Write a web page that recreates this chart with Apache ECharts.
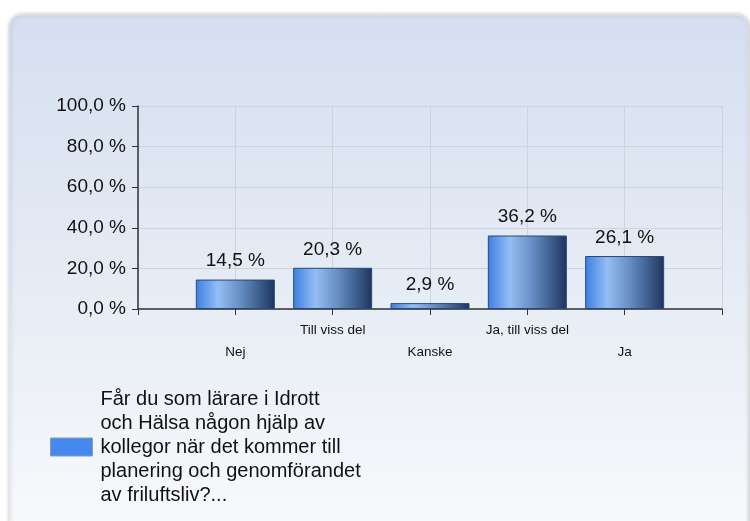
<!DOCTYPE html>
<html>
<head>
<meta charset="utf-8">
<script src="https://cdn.jsdelivr.net/npm/echarts@6/dist/echarts.min.js"></script>
<style>
  html, body { margin: 0; padding: 0; background: #ffffff; }
  #chart { width: 750px; height: 521px; }
</style>
</head>
<body>
<div id="chart"></div>
<script>
// categories (empty slots at both ends, like the original axis)
var categories = ['', 'Nej', 'Till viss del', 'Kanske', 'Ja, till viss del', 'Ja', '']
var values = ['-', 14.5, 20.3, 2.9, 36.2, 26.1, '-']
var yTicks = [0, 20, 40, 60, 80, 100]
var seriesName = 'Får du som lärare i Idrott\noch Hälsa någon hjälp av\nkollegor när det kommer till\nplanering och genomförandet\nav friluftsliv?...'

function pct(v) {
    return v.toFixed(1).replace('.', ',') + ' %'
}

const mychart = echarts.init(document.getElementById('chart'))
mychart.setOption(getOption())

function getOption() {
    var barColor = new echarts.graphic.LinearGradient(0, 0, 1, 0, [
        { offset: 0, color: '#3d7fe2' },
        { offset: 0.28, color: '#93bef4' },
        { offset: 0.55, color: '#6a90c6' },
        { offset: 0.8, color: '#3e5e8e' },
        { offset: 1, color: '#1c345e' }
    ])
    var option = {
        backgroundColor: '#ffffff',
        textStyle: { fontFamily: 'Liberation Sans, Arial, sans-serif' },
        graphic: [{
            type: 'rect',
            z: -10,
            shape: { x: 9, y: 15, width: 739, height: 540, r: 12 },
            style: {
                fill: new echarts.graphic.LinearGradient(0, 0, 0, 1, [
                    { offset: 0, color: '#d5dff0' },
                    { offset: 0.5, color: '#e6ecf5' },
                    { offset: 1, color: '#fafbfc' }
                ]),
                stroke: '#dfe5ee',
                lineWidth: 1,
                shadowBlur: 4,
                shadowColor: 'rgba(0,0,0,0.25)',
                shadowOffsetX: 1
            }
        }],
        grid: { left: 138, right: 28, top: 106, bottom: 212 },
        legend: {
            left: 45,
            top: 382,
            orient: 'vertical',
            itemWidth: 42,
            itemHeight: 18,
            itemGap: 8,
            icon: 'rect',
            textStyle: { fontSize: 20, color: '#111', lineHeight: 24, padding: [0, 0, 0, 3] },
            data: [{ name: seriesName, itemStyle: { color: '#4589ee', borderColor: '#8a9bb0', borderWidth: 1 } }]
        },
        xAxis: {
            type: 'category',
            data: categories,
            boundaryGap: false,
            axisLine: { lineStyle: { color: '#333', width: 1.5 } },
            axisTick: { show: true, length: 6, alignWithLabel: true, interval: 0, lineStyle: { color: '#333' } },
            splitLine: { show: true, interval: 0, lineStyle: { color: '#cdd4df', width: 1 } },
            axisLabel: {
                interval: 0,
                margin: 10,
                fontSize: 13.5,
                lineHeight: 22,
                color: '#111',
                formatter: function (v, i) {
                    return i % 2 === 1 ? '\n' + v : v
                }
            }
        },
        yAxis: {
            type: 'value',
            min: yTicks[0],
            max: yTicks[yTicks.length - 1],
            interval: 20,
            axisLine: { show: true, lineStyle: { color: '#333', width: 1.5 } },
            axisTick: { show: true, length: 6, lineStyle: { color: '#333' } },
            splitLine: { lineStyle: { color: '#cdd4df', width: 1 } },
            axisLabel: {
                margin: 12,
                fontSize: 19,
                color: '#111',
                formatter: function (v) { return pct(v) }
            }
        },
        series: [{
            name: seriesName,
            type: 'bar',
            data: values,
            barWidth: 79,
            itemStyle: { color: barColor, borderColor: '#2a4876', borderWidth: 1 },
            label: {
                show: true,
                position: 'top',
                distance: 9,
                fontSize: 19,
                color: '#111',
                formatter: function (p) { return pct(p.value) }
            }
        }]
    }
    return option
}
</script>
</body>
</html>
